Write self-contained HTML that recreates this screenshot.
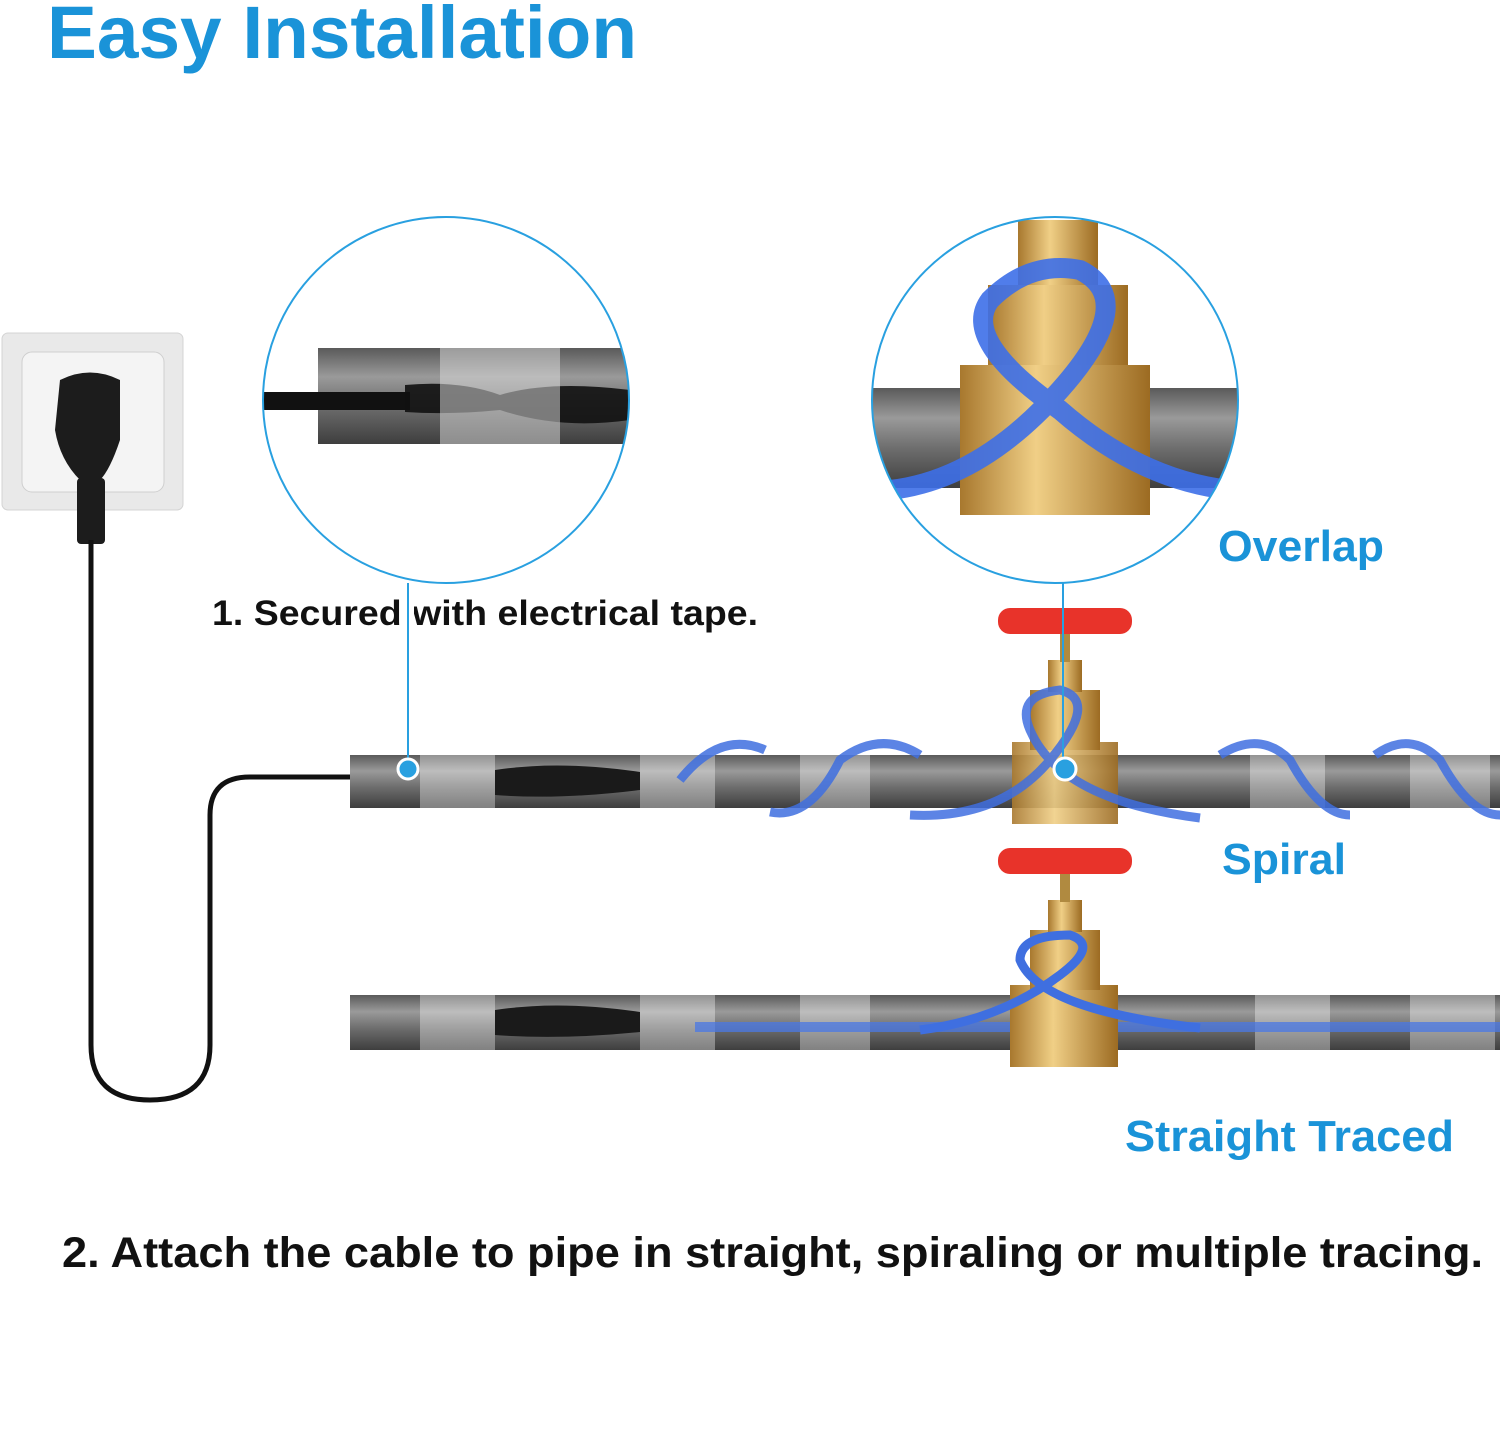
<!DOCTYPE html>
<html><head><meta charset="utf-8"><style>
html,body{margin:0;padding:0;background:#fff;width:1500px;height:1432px;overflow:hidden}
svg{display:block}
text{font-family:"Liberation Sans",Arial,sans-serif;font-weight:bold}
</style></head><body>
<svg width="1500" height="1432" viewBox="0 0 1500 1432" xmlns="http://www.w3.org/2000/svg">
<defs>
<linearGradient id="pipe" x1="0" y1="0" x2="0" y2="1">
<stop offset="0" stop-color="#5a5a5a"/><stop offset="0.3" stop-color="#9a9a9a"/><stop offset="0.6" stop-color="#6e6e6e"/><stop offset="1" stop-color="#3e3e3e"/></linearGradient>
<linearGradient id="brass" x1="0" y1="0" x2="1" y2="0">
<stop offset="0" stop-color="#a8782e"/><stop offset="0.4" stop-color="#f0cf86"/><stop offset="1" stop-color="#9c6b22"/></linearGradient>
<clipPath id="c1"><circle cx="446" cy="400" r="183"/></clipPath>
<clipPath id="c2"><circle cx="1055" cy="400" r="183"/></clipPath>
</defs>
<text x="47" y="58" font-size="74" fill="#1a93d8" textLength="590" lengthAdjust="spacingAndGlyphs">Easy Installation</text>

<!-- socket -->
<rect x="2" y="333" width="181" height="177" rx="6" fill="#e9e9e9" stroke="#d4d4d4"/>
<rect x="22" y="352" width="142" height="140" rx="10" fill="#f4f4f4" stroke="#cfcfcf"/>
<path d="M60 380 Q90 365 120 380 L120 440 Q110 470 100 480 L80 480 Q60 460 55 430 Z" fill="#1c1c1c"/>
<rect x="77" y="478" width="28" height="66" rx="4" fill="#1c1c1c"/>
<path d="M91 540 L91 1045 Q91 1100 150 1100 Q210 1100 210 1045 L210 815 Q210 777 250 777 L360 777" fill="none" stroke="#111" stroke-width="5"/>

<!-- pipe 1 -->
<rect x="350" y="755" width="1150" height="53" fill="url(#pipe)"/>
<path d="M495 770 Q560 760 640 772 L640 790 Q560 800 495 795 Z" fill="#1a1a1a"/>
<g fill="#fff" opacity="0.35"><rect x="420" y="755" width="75" height="53"/><rect x="640" y="755" width="75" height="53"/><rect x="800" y="755" width="70" height="53"/><rect x="1250" y="755" width="75" height="53"/><rect x="1410" y="755" width="80" height="53"/></g>
<g fill="none" stroke="#3f6fe0" stroke-width="9" opacity="0.85">
<path d="M680 780 Q720 730 765 750"/><path d="M770 812 Q810 820 840 760 Q880 730 920 755"/>
<path d="M1220 755 Q1260 730 1290 760 Q1320 815 1350 815"/><path d="M1375 755 Q1410 730 1440 760 Q1470 815 1500 815"/>
</g>
<rect x="1012" y="742" width="106" height="82" fill="url(#brass)" opacity="0.9"/>
<rect x="1030" y="690" width="70" height="60" fill="url(#brass)"/>
<rect x="1048" y="660" width="34" height="32" fill="url(#brass)"/>
<rect x="1060" y="630" width="10" height="32" fill="#b08a40"/>
<rect x="998" y="608" width="134" height="26" rx="12" fill="#e8332a"/>
<path d="M910 815 Q1000 820 1050 760 Q1100 700 1060 690 Q1015 695 1030 730 Q1060 800 1200 818" fill="none" stroke="#3f6fe0" stroke-width="9" opacity="0.85"/>

<!-- pipe 2 -->
<rect x="350" y="995" width="1150" height="55" fill="url(#pipe)"/>
<path d="M495 1010 Q560 1000 640 1012 L640 1032 Q560 1040 495 1035 Z" fill="#1a1a1a"/>
<g fill="#fff" opacity="0.35"><rect x="420" y="995" width="75" height="55"/><rect x="640" y="995" width="75" height="55"/><rect x="800" y="995" width="70" height="55"/><rect x="1255" y="995" width="75" height="55"/><rect x="1410" y="995" width="85" height="55"/></g>
<rect x="695" y="1022" width="815" height="10" fill="#4a78e6" opacity="0.75"/>
<rect x="1010" y="985" width="108" height="82" fill="url(#brass)"/>
<rect x="1030" y="930" width="70" height="60" fill="url(#brass)"/>
<rect x="1048" y="900" width="34" height="32" fill="url(#brass)"/>
<rect x="1060" y="870" width="10" height="32" fill="#b08a40"/>
<rect x="998" y="848" width="134" height="26" rx="12" fill="#e8332a"/>
<path d="M920 1030 Q1000 1020 1060 975 Q1100 945 1070 935 Q1020 935 1020 960 Q1040 1010 1200 1028" fill="none" stroke="#3f6fe0" stroke-width="9"/>

<!-- circle 1 -->
<g clip-path="url(#c1)">
<rect x="262" y="200" width="370" height="400" fill="#fff"/>
<rect x="318" y="348" width="320" height="96" fill="url(#pipe)"/>
<path d="M262 392 L410 392 L410 410 L262 410 Z" fill="#111"/>
<path d="M405 385 Q460 380 500 395 Q550 380 630 390 L630 420 Q560 430 500 410 Q450 415 405 412 Z" fill="#111" opacity="0.9"/>
<rect x="440" y="348" width="120" height="96" fill="#ddd" opacity="0.5"/>
</g>
<circle cx="446" cy="400" r="183" fill="none" stroke="#29a0e0" stroke-width="2"/>

<!-- circle 2 -->
<g clip-path="url(#c2)">
<rect x="870" y="200" width="370" height="400" fill="#fff"/>
<rect x="870" y="388" width="370" height="100" fill="url(#pipe)"/>
<rect x="1018" y="220" width="80" height="70" fill="url(#brass)"/>
<rect x="988" y="285" width="140" height="80" fill="url(#brass)"/>
<rect x="960" y="365" width="190" height="150" fill="url(#brass)"/>
<path d="M890 490 Q980 480 1060 390 Q1140 300 1080 270 Q1030 260 990 300 Q960 340 1060 410 Q1140 480 1230 490" fill="none" stroke="#3d6fe8" stroke-width="20" opacity="0.9"/>
</g>
<circle cx="1055" cy="400" r="183" fill="none" stroke="#29a0e0" stroke-width="2"/>

<text x="212" y="625" font-size="35" fill="#111" textLength="546" lengthAdjust="spacingAndGlyphs">1. Secured with electrical tape.</text>
<rect x="402" y="592" width="12" height="40" fill="#fff"/>
<line x1="408" y1="583" x2="408" y2="769" stroke="#29a0e0" stroke-width="2"/>
<circle cx="408" cy="769" r="10" fill="#29a0e0" stroke="#fff" stroke-width="3"/>
<line x1="1063" y1="583" x2="1063" y2="769" stroke="#29a0e0" stroke-width="2"/>
<circle cx="1065" cy="769" r="11" fill="#29a0e0" stroke="#fff" stroke-width="3"/>

<text x="1218" y="561" font-size="44" fill="#1a93d8" textLength="166" lengthAdjust="spacingAndGlyphs">Overlap</text>
<text x="1222" y="874" font-size="44" fill="#1a93d8" textLength="124" lengthAdjust="spacingAndGlyphs">Spiral</text>
<text x="1125" y="1151" font-size="44" fill="#1a93d8" textLength="329" lengthAdjust="spacingAndGlyphs">Straight Traced</text>
<text x="62" y="1267" font-size="43" fill="#111" textLength="1421" lengthAdjust="spacingAndGlyphs">2. Attach the cable to pipe in straight, spiraling or multiple tracing.</text>
</svg>
</body></html>
